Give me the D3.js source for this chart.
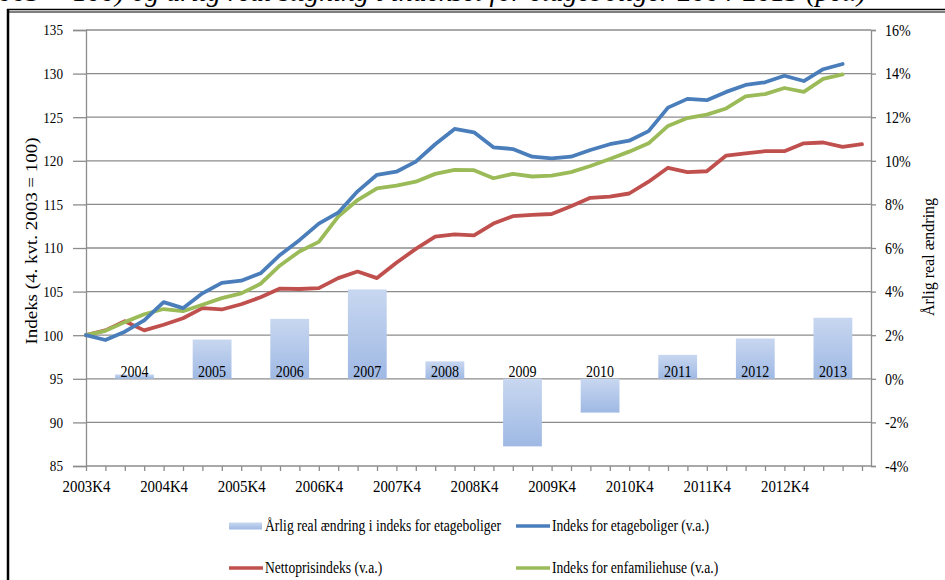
<!DOCTYPE html>
<html><head><meta charset="utf-8">
<script src="https://cdn.jsdelivr.net/npm/d3@7"></script>
<style>
body{margin:0;background:#fff}
svg{display:block}
text{font-family:"Liberation Serif","Times New Roman",serif;fill:#000}
</style>
</head><body>
<svg id="c" width="945" height="580"></svg>
<script>
const quarters = ["2003K4","2004K1","2004K2","2004K3","2004K4","2005K1","2005K2","2005K3","2005K4",
  "2006K1","2006K2","2006K3","2006K4","2007K1","2007K2","2007K3","2007K4","2008K1","2008K2","2008K3","2008K4",
  "2009K1","2009K2","2009K3","2009K4","2010K1","2010K2","2010K3","2010K4","2011K1","2011K2","2011K3","2011K4",
  "2012K1","2012K2","2012K3","2012K4","2013K1","2013K2","2013K3","2013K4"];
const xTickLabels = ["2003K4","2004K4","2005K4","2006K4","2007K4","2008K4","2009K4","2010K4","2011K4","2012K4"];
const etageboliger = [100.0, 99.45, 100.4, 101.7, 103.8, 103.1, 104.8, 106.0, 106.25, 107.1,
  109.2, 110.9, 112.8, 114.05, 116.5, 118.4, 118.75, 119.9, 121.9, 123.65,
  123.27, 121.55, 121.35, 120.47, 120.28, 120.47, 121.24, 121.9, 122.3, 123.4,
  126.1, 127.1, 126.95, 127.9, 128.7, 129.0, 129.75, 129.15, 130.5, 131.1];
const enfamiliehuse = [100.0, 100.5, 101.5, 102.4, 103.0, 102.75, 103.5, 104.25, 104.8, 105.9,
  108.0, 109.6, 110.7, 113.6, 115.5, 116.85, 117.15, 117.6, 118.5, 118.95,
  118.93, 118.0, 118.5, 118.2, 118.3, 118.7, 119.4, 120.2, 121.05, 122.0,
  124.0, 124.9, 125.3, 126.0, 127.4, 127.65, 128.35, 127.9, 129.4, 129.9];
const nettoprisindeks = [100.0, 100.55, 101.6, 100.55, 101.2, 101.95, 103.1, 102.95, 103.55, 104.35,
  105.35, 105.3, 105.4, 106.55, 107.3, 106.55, 108.3, 109.9, 111.3, 111.57,
  111.45, 112.8, 113.65, 113.8, 113.9, 114.8, 115.75, 115.9, 116.25, 117.6,
  119.2, 118.7, 118.8, 120.6, 120.85, 121.1, 121.1, 122.0, 122.1, 121.6, 121.9];
const years = ["2004","2005","2006","2007","2008","2009","2010","2011","2012","2013"];
const aarligAendring = [0.2, 1.8, 2.75, 4.1, 0.8, -3.1, -1.55, 1.1, 1.85, 2.8];
const leftTicks = [85, 90, 95, 100, 105, 110, 115, 120, 125, 130, 135];
const rightTicks = [-4, -2, 0, 2, 4, 6, 8, 10, 12, 14, 16];

const SX = 0.85;
const svg = d3.select("#c");
const defs = svg.append("defs");
const grad = defs.append("linearGradient").attr("id","barGrad").attr("x1",0).attr("y1",0).attr("x2",0).attr("y2",1);
grad.append("stop").attr("offset","0%").attr("stop-color","#c8d7f0");
grad.append("stop").attr("offset","100%").attr("stop-color","#9fb9e4");

const x = d3.scaleLinear().domain([0, quarters.length - 1]).range([86, 862]);
const yL = d3.scaleLinear().domain([85, 135]).range([466, 30]);
const yR = d3.scaleLinear().domain([-4, 16]).range([466, 30]);
const plotRight = 871;

// frame & title (cut off at the top edge, as in the source)
svg.append("text").attr("transform", "translate(866,1)").attr("text-anchor","end")
  .style("font-size","28px").style("font-style","italic")
  .text("Prisindeks for etageboliger og enfamiliehuse (4. kvt. 2003 = 100) og årlig real stigning i indekset for etageboliger 2004-2013 (pct.)");
svg.append("line").attr("x1",7).attr("x2",945).attr("y1",9.5).attr("y2",9.5).attr("stroke","#000").attr("stroke-width",1.5);
svg.append("line").attr("x1",7).attr("x2",945).attr("y1",12).attr("y2",12).attr("stroke","#000").attr("stroke-width",1.2);
svg.append("line").attr("x1",8).attr("x2",8).attr("y1",9).attr("y2",580).attr("stroke","#000").attr("stroke-width",2.5);

// gridlines
svg.append("g").selectAll("line").data(leftTicks.filter(d => d !== 85)).join("line")
  .attr("x1", 86).attr("x2", plotRight).attr("y1", d => yL(d)).attr("y2", d => yL(d))
  .attr("stroke", "#8c8c8c").attr("stroke-width", 1.3);

// bars
const barW = x(2) - x(0);
svg.append("g").selectAll("rect").data(aarligAendring).join("rect")
  .attr("x", (d, i) => x(4 * i + 2.5) - barW / 2)
  .attr("width", barW)
  .attr("y", d => yR(Math.max(d, 0)))
  .attr("height", d => Math.abs(yR(d) - yR(0)))
  .attr("fill", "url(#barGrad)");

// bar labels
svg.append("g").selectAll("text").data(years).join("text")
  .attr("transform", (d, i) => `translate(${x(4 * i + 2.5)},${yR(0) - 1.5}) scale(${SX},1)`)
  .attr("text-anchor", "middle").style("font-size", "16.5px").text(d => d);

// left axis
const gL = svg.append("g").attr("transform", "translate(86,0)")
  .call(d3.axisLeft(yL).tickValues(leftTicks).tickSize(13).tickFormat(d3.format("d")));
gL.selectAll("text").attr("x", 0).attr("transform", `translate(-23,0) scale(${SX},1)`).style("font-size", "15.5px");

// right axis
const gR = svg.append("g").attr("transform", `translate(${plotRight},0)`)
  .call(d3.axisRight(yR).tickValues(rightTicks).tickSize(5).tickFormat(d => d + "%"));
gR.selectAll("text").attr("x", 0).attr("transform", `translate(14,0) scale(${SX},1)`).style("font-size", "16.5px");

// bottom axis
const gB = svg.append("g").attr("transform", "translate(0,466)")
  .call(d3.axisBottom(x).tickValues(d3.range(quarters.length)).tickSize(5)
    .tickFormat(i => xTickLabels.includes(quarters[i]) ? quarters[i] : ""));
gB.select(".domain").remove();
gB.append("line").attr("x1", 86).attr("x2", plotRight).attr("y1", 0).attr("y2", 0);
gB.selectAll("text").attr("y", 0).attr("dy", 0).attr("transform", `translate(0,26) scale(${SX},1)`).style("font-size", "17.5px");

[gL, gR, gB].forEach(g => {
  g.selectAll("line, path").attr("stroke", "#8c8c8c").attr("stroke-width", 1.3);
  g.selectAll("text").attr("fill", "#000").style("font-family", '"Liberation Serif","Times New Roman",serif');
});

// lines
const lineGen = d3.line().x((d, i) => x(i)).y(d => yL(d));
const series = [
  {data: nettoprisindeks, color: "#c0504d"},
  {data: enfamiliehuse, color: "#9bbb59"},
  {data: etageboliger, color: "#4a7ebb"}
];
svg.append("g").selectAll("path").data(series).join("path")
  .attr("d", d => lineGen(d.data)).attr("fill", "none")
  .attr("stroke", d => d.color).attr("stroke-width", 3.8)
  .attr("stroke-linejoin", "round").attr("stroke-linecap", "round");

// axis titles
svg.append("text").attr("transform", "translate(37,241) rotate(-90) scale(1.15,1)").attr("text-anchor", "middle")
  .style("font-size", "16.5px").text("Indeks (4. kvt. 2003 = 100)");
svg.append("text").attr("transform", "translate(934,257) rotate(-90)").attr("text-anchor", "middle")
  .style("font-size", "16px").text("Årlig real ændring");

// legend
const legend = [
  {label: "Årlig real ændring i indeks for etageboliger", type: "bar", color: "url(#barGrad)", lx: 229, ly: 526},
  {label: "Indeks for etageboliger (v.a.)", type: "line", color: "#4a7ebb", lx: 516, ly: 526},
  {label: "Nettoprisindeks (v.a.)", type: "line", color: "#c0504d", lx: 229, ly: 568},
  {label: "Indeks for enfamiliehuse (v.a.)", type: "line", color: "#9bbb59", lx: 516, ly: 568}
];
const lg = svg.append("g").selectAll("g").data(legend).join("g")
  .attr("transform", d => `translate(${d.lx},${d.ly})`);
lg.filter(d => d.type === "bar").append("rect").attr("x", 0).attr("y", -3.5).attr("width", 33).attr("height", 7).attr("fill", d => d.color);
lg.filter(d => d.type === "line").append("line").attr("x1", 0).attr("x2", 34).attr("y1", 0).attr("y2", 0)
  .attr("stroke", d => d.color).attr("stroke-width", 3.5);
lg.append("text").attr("transform", `translate(36,5) scale(${SX},1)`).style("font-size", "16px").text(d => d.label);
</script>
</body></html>
